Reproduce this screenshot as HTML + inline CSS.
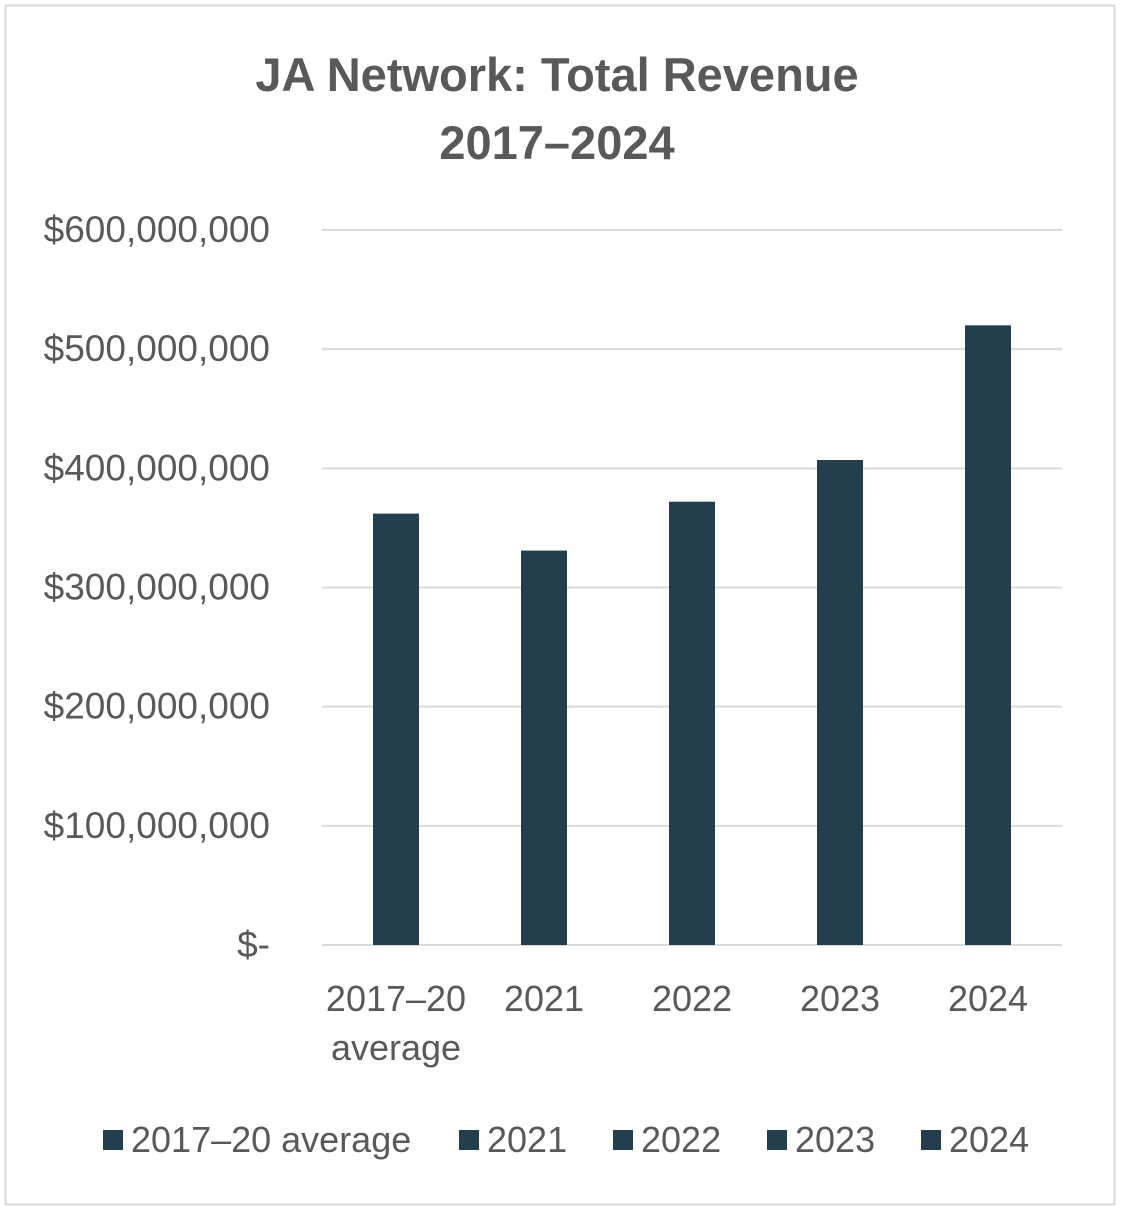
<!DOCTYPE html>
<html><head><meta charset="utf-8"><style>
body{margin:0;background:#fff;}
svg text{font-family:"Liberation Sans",sans-serif;fill:#595959;}
</style></head><body>
<svg id="chart" width="1122" height="1210" xmlns="http://www.w3.org/2000/svg">
<rect x="5.5" y="5.5" width="1109" height="1199" fill="#fff" stroke="#d9d9d9" stroke-width="2"/>
<text x="557" y="91" text-anchor="middle" font-size="47" font-weight="bold">JA Network: Total Revenue</text>
<text x="557" y="159" text-anchor="middle" font-size="47" font-weight="bold">2017–2024</text>
<g id="grid"></g><g id="bars"></g><g id="xlabels"></g><g id="legend"></g>
</svg>
<script>
const categories=["2017–20 average","2021","2022","2023","2024"];
const revenues=[362000000,331000000,372000000,407000000,520000000];
const yTicks=[0,100000000,200000000,300000000,400000000,500000000,600000000];
const yTickLabels=["$-","$100,000,000","$200,000,000","$300,000,000","$400,000,000","$500,000,000","$600,000,000"];
const NS="http://www.w3.org/2000/svg";
const x0=322,x1=1062,yBase=945,yTop=230,maxV=600000000;
const y=v=>yBase-(v/maxV)*(yBase-yTop);
const band=(x1-x0)/categories.length;
function mk(t,a,p){const e=document.createElementNS(NS,t);for(const k in a)e.setAttribute(k,a[k]);p.appendChild(e);return e;}
const grid=document.getElementById('grid');
yTicks.forEach((v,i)=>{
 const l=mk('line',{x1:x0,x2:x1,y1:y(v),y2:y(v),stroke:'#d9d9d9','stroke-width':2},grid);
 
 
 const t=mk('text',{x:270,y:y(v)+12,'text-anchor':'end','font-size':37},grid);
 t.textContent=yTickLabels[i];
 
 
});
const bars=document.getElementById('bars'),xl=document.getElementById('xlabels');
categories.forEach((c,i)=>{
 const cx=x0+band*(i+0.5);
 const r=mk('rect',{x:cx-23,y:y(revenues[i]),width:46,height:yBase-y(revenues[i]),fill:'#233f4d'},bars);
 
 
 const t=mk('text',{x:cx,y:1011,'text-anchor':'middle','font-size':36},xl);
 
 
 if(c.includes(' ')){const p=c.split(' ');t.textContent=p[0];const t2=mk('text',{x:cx,y:1060,'text-anchor':'middle','font-size':36},xl);t2.textContent=p[1];
 
 }
 else t.textContent=c;
});
const leg=document.getElementById('legend');
const legX=[103,459,613,767,921];
categories.forEach((c,i)=>{
 const g=mk('g',{},leg);
 
 
 mk('rect',{x:legX[i],y:1130,width:20,height:20,fill:'#233f4d'},g);
 const t=mk('text',{x:legX[i]+28,y:1152,'font-size':36},g);t.textContent=c;
});
</script>
</body></html>
